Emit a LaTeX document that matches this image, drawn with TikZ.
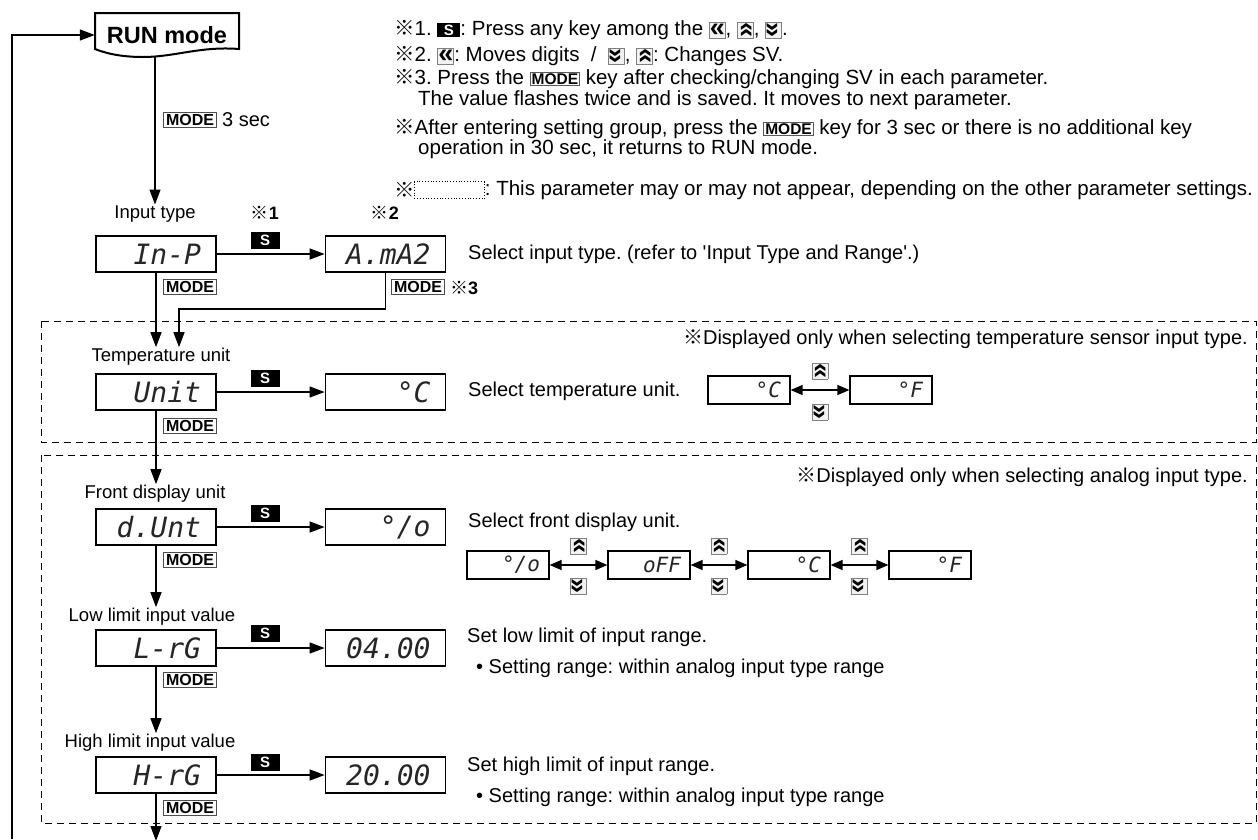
\documentclass[tikz,border=0pt]{standalone}
\usepackage{fontspec}
\setmainfont{Liberation Sans}
\newfontfamily\cjkfont{Noto Sans CJK JP}
\newfontfamily\segfont{DejaVu Sans Mono}
\usetikzlibrary{arrows.meta,calc}
\frenchspacing

\newcommand\fs[1]{\fontsize{#1}{#1}\selectfont}
\newcommand\rmark{\raisebox{0pt}[0.72em][0pt]{\cjkfont ※}}
\newcommand\kicon[1]{{\setlength\fboxsep{0pt}\setlength\fboxrule{0.9pt}\raisebox{-2.5pt}[14.5pt][2.5pt]{\fcolorbox{black!50}{black!5}{\parbox[b][15pt][c]{15pt}{\centering\fs{27}\bfseries #1}}}}}
\newcommand\kL{\kicon{«}}
\newcommand\kU{\kicon{\rotatebox[origin=c]{-90}{«}}}
\newcommand\kD{\kicon{\rotatebox[origin=c]{90}{«}}}
\newcommand\skey{{\setlength\fboxsep{1.5pt}\raisebox{0pt}[13pt][1pt]{\colorbox{black}{\makebox[20pt]{\textcolor{white}{\bfseries\fs{15}S}}}}}}
\newcommand\modekey{{\setlength\fboxsep{1pt}\setlength\fboxrule{0.9pt}\raisebox{0pt}[14pt][1pt]{\fcolorbox{black!65}{white}{\bfseries\fs{15.5}MODE}}}}

\tikzset{
 conn/.style={line width=1.3pt, -{Triangle[length=15pt,width=11pt]}},
 dbl/.style={line width=1.3pt, {Triangle[length=12pt,width=10pt]}-{Triangle[length=12pt,width=10pt]}},
 disp/.style={draw, line width=1.8pt, minimum width=120pt, minimum height=36pt, inner sep=0pt, text width=90pt, align=right, text=black!85, font=\segfont\itshape\fs{28}},
 mini/.style={draw, line width=1.2pt, minimum width=82pt, minimum height=28pt, inner sep=0pt, text width=64pt, align=right, text=black!85, font=\segfont\itshape\fs{21}},
 skeybox/.style={fill=black, text=white, font=\bfseries\fs{15}, minimum width=29pt, minimum height=17pt, inner sep=0pt},
 modebox/.style={draw=black!70, line width=1pt, fill=white, font=\bfseries\fs{16}, inner xsep=2.5pt, inner ysep=1.8pt},
 lbl/.style={font=\fs{18.5}, inner sep=1pt},
 txt/.style={font=\fs{20}, inner sep=0pt, anchor=west},
 note/.style={font=\fs{20.5}, inner sep=0pt, anchor=west},
 keyic/.style={inner sep=0pt, font=\fs{20}},
 region/.style={line width=1pt, dash pattern=on 7pt off 5pt},
 runshape/.style={line width=2pt},
 refmk/.style={font=\fs{18}, inner sep=0pt},
}

\begin{document}
\begin{tikzpicture}[x=1pt,y=-1pt]
\useasboundingbox (0,0) rectangle (1258,839);

% ---------- notes ----------
\node[note] (n1) at (394,30) {\rmark1. \skey: Press any key among the \kL, \kU, \kD.};
\node[note] (n2) at (394,56) {\rmark2. \kL: Moves digits \ / \ \kD, \kU: Changes SV.};
\node[note] (n3) at (394,79) {\rmark3. Press the \modekey\ key after checking/changing SV in each parameter.};
\node[note] (n4) at (418,100) {The value flashes twice and is saved. It moves to next parameter.};
\node[note] (n5) at (394,129) {\rmark After entering setting group, press the \modekey\ key for 3 sec or there is no additional key};
\node[note] (n6) at (418,149) {operation in 30 sec, it returns to RUN mode.};
\node[note] (n7) at (394,190) {\rmark};
\node[draw, dotted, line width=0.8pt, minimum width=70pt, minimum height=17pt, inner sep=0pt, anchor=west] (n7b) at ([xshift=-1pt]n7.east) {};
\node[note] (n7c) at (n7b.east) {: This parameter may or may not appear, depending on the other parameter settings.};

% ---------- RUN mode ----------
\node[font=\bfseries\fs{23.5}, minimum width=144pt, minimum height=36pt, inner sep=0pt] (run) at (167,35) {RUN mode};
\draw[runshape] (95,13) -- (239,13) -- (239,49) .. controls (200,46) and (175,57) .. (143,57) .. controls (120,57) and (105,53) .. (95,49) -- cycle;
\coordinate (runb) at (155,57);
\coordinate (loopb) at (12,839);
\draw[conn] (loopb) |- (run.west);

\node[modebox] (m0) at (190,120) {MODE};
\node[txt] (m0t) at ([xshift=5pt]m0.east) {3 sec};

% ---------- Input type ----------
\node[lbl] (lInp) at (155,214) {Input type};
\draw[conn] (runb) -- (runb |- lInp.north);
\node[disp] (inp) at (156,254) {In-P};
\node[disp] (ama) at (385.5,254) {A.mA2};
\node[skeybox] (s1) at (265,240) {S};
\draw[conn] (inp) -- (ama);
\node[refmk] (r1) at (265,213) {\rmark\textbf{1}};
\node[refmk] (r2) at (385,213) {\rmark\textbf{2}};
\node[modebox] (m1) at (190,287) {MODE};
\node[modebox] (m1b) at (418,287) {MODE};
\node[refmk] (r3) at (464,288) {\rmark\textbf{3}};
\node[txt] (d1) at (468,254) {Select input type. (refer to \textquotesingle Input Type and Range\textquotesingle.)};

% ---------- Temperature unit region ----------
\draw[region] (41,321) rectangle (1256,442);
\node[txt, anchor=east] (g1) at (1248,339) {\rmark Displayed only when selecting temperature sensor input type.};
\node[lbl] (lTemp) at (161,357) {Temperature unit};
\draw[conn] (inp.south) -- (inp.south |- lTemp.north);
\coordinate (j1) at (179,309);
\draw[conn] (ama.south) |- (j1) -- (j1 |- lTemp.north);
\node[disp] (unit) at (156,392) {Unit};
\node[disp] (degc) at (385.5,392) {°C};
\node[skeybox] (s2) at (265,378.5) {S};
\draw[conn] (unit) -- (degc);
\node[modebox] (m2) at (190,426) {MODE};
\node[txt] (d2) at (468,391) {Select temperature unit.};
\node[mini] (t1) at (749,390) {°C};
\node[mini] (t2) at (891,390) {°F};
\draw[dbl] (t1) -- (t2);
\node[keyic] (tu) at (820,370) {\kU};
\node[keyic] (td) at (820,411) {\kD};

% ---------- Analog region ----------
\draw[region] (41,455) rectangle (1256,823);
\node[txt, anchor=east] (g2) at (1248,477) {\rmark Displayed only when selecting analog input type.};

\node[lbl] (lFront) at (155,494) {Front display unit};
\draw[conn] (unit.south) -- (unit.south |- lFront.north);
\node[disp] (dunt) at (156,527) {d.Unt};
\node[disp] (pct) at (385.5,527) {°/o};
\node[skeybox] (s3) at (265,513) {S};
\draw[conn] (dunt) -- (pct);
\node[modebox] (m3) at (190,560) {MODE};
\node[txt] (d3) at (468,522) {Select front display unit.};
\node[mini] (f1) at (508,565) {°/o};
\node[mini] (f2) at (649,565) {oFF};
\node[mini] (f3) at (789,565) {°C};
\node[mini] (f4) at (930,565) {°F};
\draw[dbl] (f1) -- (f2);
\draw[dbl] (f2) -- (f3);
\draw[dbl] (f3) -- (f4);
\node[keyic] (fu1) at (578.5,545) {\kU};
\node[keyic] (fd1) at (578.5,585) {\kD};
\node[keyic] (fu2) at (719,545) {\kU};
\node[keyic] (fd2) at (719,585) {\kD};
\node[keyic] (fu3) at (859.5,545) {\kU};
\node[keyic] (fd3) at (859.5,585) {\kD};

\node[lbl] (lLow) at (152,617) {Low limit input value};
\draw[conn] (dunt.south) -- (dunt.south |- lLow.north);
\node[disp] (lrg) at (156,648) {L-rG};
\node[disp] (v04) at (385.5,648) {04.00};
\node[skeybox] (s4) at (265,633.5) {S};
\draw[conn] (lrg) -- (v04);
\node[modebox] (m4) at (190,680) {MODE};
\node[txt] (d4) at (467,637) {Set low limit of input range.};
\node[txt] (d4b) at (476,668) {\textbullet\ Setting range: within analog input type range};

\node[lbl] (lHigh) at (150,743) {High limit input value};
\draw[conn] (lrg.south) -- (lrg.south |- lHigh.north);
\node[disp] (hrg) at (156,775) {H-rG};
\node[disp] (v20) at (385.5,775) {20.00};
\node[skeybox] (s5) at (265,762) {S};
\draw[conn] (hrg) -- (v20);
\node[modebox] (m5) at (190,808) {MODE};
\node[txt] (d5) at (467,766) {Set high limit of input range.};
\node[txt] (d5b) at (476,797) {\textbullet\ Setting range: within analog input type range};
\coordinate (bot) at (156,841);
\draw[conn] (hrg.south) -- (bot);
\end{tikzpicture}
\end{document}
